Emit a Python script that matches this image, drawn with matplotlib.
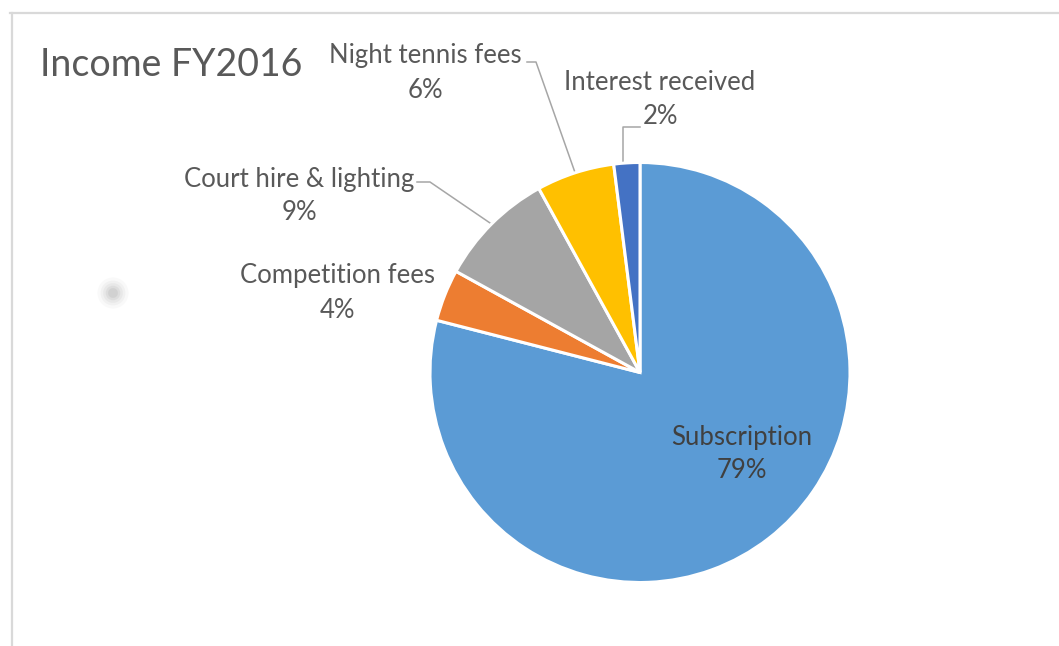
import numpy as np
import matplotlib
matplotlib.use("Agg")
import matplotlib.pyplot as plt
from matplotlib.lines import Line2D

# ---- data ----
categories = ["Subscription", "Competition fees", "Court hire & lighting",
              "Night tennis fees", "Interest received"]
shares = [79, 4, 9, 6, 2]
colors = ["#5B9BD5", "#ED7D31", "#A5A5A5", "#FFC000", "#4472C4"]
title = "Income FY2016"

W, H = 1059, 646
fig = plt.figure(figsize=(W / 100, H / 100), dpi=100)
ax = fig.add_axes([0, 0, 1, 1])

def py(y):  # pixel-from-top to data y
    return H - y

font = "Lato"
txt_col = "#595959"
cx, cy, r = 640, py(372.5), 210

wedges, _ = ax.pie(shares, colors=colors, startangle=90, counterclock=False,
                   center=(cx, cy), radius=r,
                   wedgeprops=dict(edgecolor="white", linewidth=2.2))
ax.set_xlim(0, W)
ax.set_ylim(0, H)
ax.set_aspect("equal")
ax.axis("off")

# chart frame (top and left borders)
fig.add_artist(Line2D([10 / W, 1], [1 - 12.5 / H, 1 - 12.5 / H], color="#d9d9d9", lw=1.6))
fig.add_artist(Line2D([12 / W, 12 / W], [0, 1 - 12.5 / H], color="#d9d9d9", lw=1.6))

# faint blurred artifact dot
for s, a in [(500, 0.05), (320, 0.07), (200, 0.09), (110, 0.12), (50, 0.15)]:
    ax.scatter([113], [py(293)], s=s, color="#909090", alpha=a, edgecolors="none")

# title
ax.text(40, py(65), title, fontsize=27, color=txt_col, family=font,
        ha="left", va="center")

# labels: (name pos, pct pos)
label_pos = {
    "Subscription": ((742, 437), (742, 470)),
    "Competition fees": ((337, 275), (337, 310)),
    "Court hire & lighting": ((299, 180), (299, 213)),
    "Night tennis fees": ((425, 55), (425, 91)),
    "Interest received": ((660, 82), (660, 117)),
}
for cat, val in zip(categories, shares):
    (nx, ny), (px_, pyy) = label_pos[cat]
    col = "#404040" if cat == "Subscription" else txt_col
    ax.text(nx, py(ny), cat, fontsize=18.5, color=col, family=font,
            ha="center", va="center")
    ax.text(px_, py(pyy), f"{val}%", fontsize=18.5, color=col, family=font,
            ha="center", va="center")

# leader lines, ending at wedge mid-angle on the rim
elbows = {
    "Night tennis fees": [(527, 62), (536, 62)],
    "Interest received": [(640, 127), (623, 127)],
    "Court hire & lighting": [(417, 182), (430, 182)],
}
for w, cat in zip(wedges, categories):
    if cat not in elbows:
        continue
    mid = np.deg2rad((w.theta1 + w.theta2) / 2)
    ex, ey = cx + r * np.cos(mid), cy + r * np.sin(mid)
    pts = [(x, py(y)) for x, y in elbows[cat]] + [(ex, ey)]
    if cat == "Interest received":
        pts[-1] = (pts[-2][0], ey)
    xs, ys = zip(*pts)
    ax.plot(xs, ys, color="#a6a6a6", lw=1.1, zorder=0.5)

fig.savefig("out.png", dpi=100, facecolor="white")
